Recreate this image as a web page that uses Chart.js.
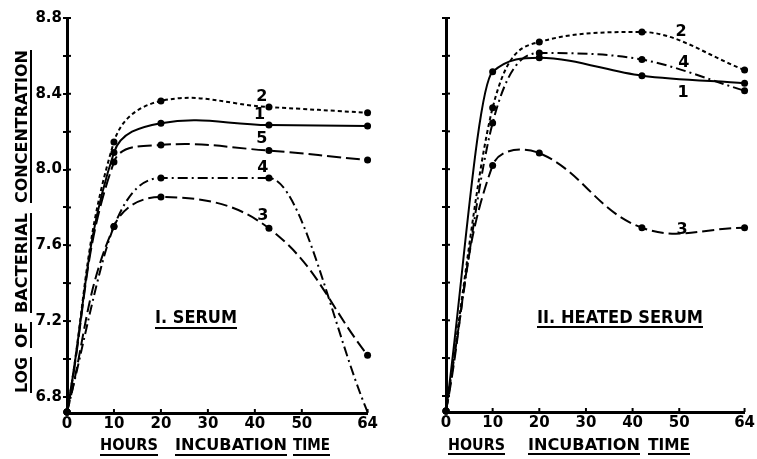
<!DOCTYPE html>
<html>
<head>
<meta charset="utf-8">
<script src="https://cdn.jsdelivr.net/npm/chart.js@4.4.1/dist/chart.umd.min.js"></script>
<style>
  body { margin: 0; background: #fff; }
  canvas { position: absolute; top: 0; }
</style>
</head>
<body>
<canvas id="serumChart" width="380" height="459" style="left:0"></canvas>
<canvas id="heatedChart" width="377" height="459" style="left:380px"></canvas>
<script>
// sampling times (hours)
const hoursSerum = [0, 10, 20, 43, 64];
const hoursHeated = [0, 10, 20, 42, 64];

// I. serum - log of bacterial concentration, curves 1..5
const serum1 = [6.72, 8.09, 8.245, 8.235, 8.23];
const serum2 = [6.72, 8.146, 8.362, 8.33, 8.30];
const serum3 = [6.72, 7.70, 7.855, 7.69, 7.02];
const serum4 = [6.72, 7.70, 7.955, 7.955, 6.72];
const serum5 = [6.72, 8.04, 8.13, 8.10, 8.05];

// II. heated serum, curves 1..4
const heated1 = [6.72, 8.515, 8.59, 8.495, 8.455];
const heated2 = [6.72, 8.325, 8.673, 8.726, 8.525];
const heated3 = [6.72, 8.02, 8.085, 7.69, 7.69];
const heated4 = [6.72, 8.245, 8.615, 8.58, 8.415];

// axis ticks
const yTickValues = [6.8, 7.0, 7.2, 7.4, 7.6, 7.8, 8.0, 8.2, 8.4, 8.6, 8.8];
const xTickValues = [0, 10, 20, 30, 40, 50, 64];

const FONT = '"DejaVu Sans", sans-serif';

// dash pattern for each curve number
const dashes = {
  1: [],
  2: [4, 3],
  3: [12, 5],
  4: [10, 4, 2, 4],
  5: [14, 5]
};

function makeSet(num, hours, vals, extra) {
  return Object.assign({
    label: String(num),
    data: hours.map((h, i) => ({ x: h, y: vals[i] })),
    borderColor: '#000',
    borderWidth: 2,
    borderDash: dashes[num],
    backgroundColor: '#000',
    pointBackgroundColor: '#000',
    pointBorderWidth: 0,
    pointRadius: 3.5,
    tension: 0.4,
    fill: false,
    clip: 6
  }, extra || {});
}

// draws a word squeezed into a span, with an underline
function drawWord(ctx, w) {
  ctx.save();
  ctx.font = 'bold ' + w.size + 'px ' + FONT;
  const len = Math.abs(w.to - w.from);
  const sx = len / ctx.measureText(w.text).width;
  if (w.vertical) {
    ctx.translate(w.base, w.from);
    ctx.rotate(-Math.PI / 2);
  } else {
    ctx.translate(w.from, w.base);
  }
  ctx.save();
  ctx.scale(sx, 1);
  ctx.textBaseline = 'alphabetic';
  ctx.textAlign = 'left';
  ctx.fillText(w.text, 0, 0);
  ctx.restore();
  ctx.lineWidth = 2;
  ctx.beginPath();
  ctx.moveTo(0, w.under);
  ctx.lineTo(len, w.under);
  ctx.stroke();
  ctx.restore();
}

const annotatePanel = {
  id: 'annotatePanel',
  afterDraw(chart, args, opts) {
    const ctx = chart.ctx;
    const { left, bottom } = chart.chartArea;
    const xs = chart.scales.x, ys = chart.scales.y;
    ctx.save();
    ctx.fillStyle = '#000';
    ctx.strokeStyle = '#000';
    ctx.lineWidth = 2;
    // tick stubs on inner side
    ys.ticks.forEach(t => {
      const p = ys.getPixelForValue(t.value);
      ctx.beginPath(); ctx.moveTo(left, p); ctx.lineTo(left + 4, p); ctx.stroke();
    });
    xs.ticks.forEach(t => {
      if (t.value === 0) return;
      const p = xs.getPixelForValue(t.value);
      ctx.beginPath(); ctx.moveTo(p, bottom); ctx.lineTo(p, bottom - 4); ctx.stroke();
    });
    // curve numbers
    ctx.font = 'bold 16px ' + FONT;
    ctx.textAlign = 'center';
    ctx.textBaseline = 'middle';
    opts.numbers.forEach(n => {
      ctx.fillText(n.text, xs.getPixelForValue(n.x), ys.getPixelForValue(n.y));
    });
    opts.words.forEach(w => drawWord(ctx, w));
    ctx.restore();
  }
};

function panelOptions(yWidth, xHeight, padRight, showYLabels, annot) {
  return {
    responsive: false,
    animation: false,
    layout: { padding: { top: 18, right: padRight, left: 0, bottom: 0 } },
    plugins: {
      legend: { display: false },
      tooltip: { enabled: false },
      annotatePanel: annot
    },
    scales: {
      x: {
        type: 'linear',
        min: 0,
        max: 64,
        afterBuildTicks: s => { s.ticks = xTickValues.map(v => ({ value: v })); },
        afterFit: s => { s.height = xHeight; },
        ticks: {
          color: '#000',
          padding: 2,
          maxRotation: 0,
          font: { family: FONT, size: 15, weight: 'bold' },
          callback: v => String(v)
        },
        grid: { display: true, drawOnChartArea: false, drawTicks: false, color: '#000' },
        border: { display: true, color: '#000', width: 3 }
      },
      y: {
        type: 'linear',
        min: 6.715,
        max: 8.8,
        afterBuildTicks: s => { s.ticks = yTickValues.map(v => ({ value: v })); },
        afterFit: s => { s.width = yWidth; },
        ticks: {
          color: '#000',
          padding: 1,
          font: { family: FONT, size: 15, weight: 'bold' },
          callback: v => (showYLabels && Math.round(v * 10) % 4 === 0) ? v.toFixed(1) : ''
        },
        grid: { display: true, drawOnChartArea: false, drawTicks: true, tickLength: 4, lineWidth: 2, color: '#000' },
        border: { display: true, color: '#000', width: 3 }
      }
    }
  };
}

const mono = { cubicInterpolationMode: 'monotone' };

new Chart(document.getElementById('serumChart'), {
  type: 'line',
  data: {
    datasets: [
      makeSet(1, hoursSerum, serum1),
      makeSet(2, hoursSerum, serum2),
      makeSet(5, hoursSerum, serum5),
      makeSet(4, hoursSerum, serum4, { cubicInterpolationMode: 'monotone', pointRadius: [3.5, 3.5, 3.5, 3.5, 0] }),
      makeSet(3, hoursSerum, serum3)
    ]
  },
  options: panelOptions(67, 46, 12, true, {
    numbers: [
      { text: '2', x: 41.5, y: 8.383 },
      { text: '1', x: 41.0, y: 8.288 },
      { text: '5', x: 41.5, y: 8.161 },
      { text: '4', x: 41.7, y: 8.008 },
      { text: '3', x: 41.7, y: 7.755 }
    ],
    words: [
      { text: 'LOG', from: 393, to: 357, base: 27, under: 4, size: 15, vertical: true },
      { text: 'OF', from: 348, to: 322, base: 27, under: 4, size: 15, vertical: true },
      { text: 'BACTERIAL', from: 313, to: 213, base: 27, under: 4, size: 15, vertical: true },
      { text: 'CONCENTRATION', from: 203, to: 50, base: 27, under: 4, size: 15, vertical: true },
      { text: 'HOURS', from: 100, to: 158, base: 450, under: 5, size: 15 },
      { text: 'INCUBATION', from: 175, to: 287, base: 450, under: 5, size: 15 },
      { text: 'TIME', from: 293, to: 330, base: 450, under: 5, size: 15 },
      { text: 'I. SERUM', from: 155, to: 237, base: 323, under: 5, size: 17 }
    ]
  }),
  plugins: [annotatePanel]
});

new Chart(document.getElementById('heatedChart'), {
  type: 'line',
  data: {
    datasets: [
      makeSet(1, hoursHeated, heated1, mono),
      makeSet(2, hoursHeated, heated2, mono),
      makeSet(4, hoursHeated, heated4, mono),
      makeSet(3, hoursHeated, heated3)
    ]
  },
  options: panelOptions(66, 47, 10, false, {
    numbers: [
      { text: '2', x: 50.4, y: 8.726 },
      { text: '4', x: 51.0, y: 8.563 },
      { text: '1', x: 50.8, y: 8.404 },
      { text: '3', x: 50.6, y: 7.681 }
    ],
    words: [
      { text: 'HOURS', from: 68, to: 125, base: 450, under: 4, size: 15 },
      { text: 'INCUBATION', from: 148, to: 260, base: 450, under: 4, size: 15 },
      { text: 'TIME', from: 268, to: 310, base: 450, under: 4, size: 15 },
      { text: 'II. HEATED SERUM', from: 157, to: 323, base: 323, under: 4, size: 17 }
    ]
  }),
  plugins: [annotatePanel]
});
</script>
</body>
</html>
